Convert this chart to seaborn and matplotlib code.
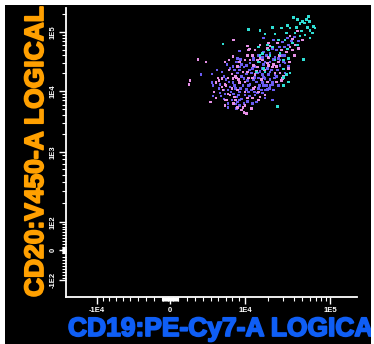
import numpy as np
import pandas as pd
import matplotlib
matplotlib.use("Agg")
import matplotlib.pyplot as plt
import matplotlib.patheffects as pe
import seaborn as sns
from matplotlib.patches import Rectangle
from matplotlib.ticker import FixedLocator, FixedFormatter, NullFormatter

# ---------------- data (CD19 / CD20 intensities) ----------------
cyan_x = [39338, 43586, 49514, 52058, 56206, 57644, 60520, 65392, 68640,
          36350, 33695, 41330, 46970, 53330, 60520, 32810, 28777, 24500, 22632, 18607, 16114, 11106,
          6640,
          38342, 33695, 43586, 50786, 36350, 30351, 30351, 25896,
          17112, 22632, 27990, 30351, 34580, 19719, 14319, 18607,
          46970, 54768, 42458, 26594, 21386, 31925, 15216, 24500, 48242, 59082, 63768,
          15216, 20275,
          34580, 32810, 30351, 17611, 16114]
cyan_y = [1.73e5, 1.60e5, 1.48e5, 1.42e5, 1.21e5, 1.80e5, 1.08e5, 1.26e5, 1.17e5,
          1.17e5, 1.31e5, 9.62e4, 8.56e4, 8.90e4, 7.91e4, 9.62e4, 1.17e5, 9.25e4, 1.21e5, 9.25e4, 1.08e5, 1.12e5,
          6.26e4,
          6.51e4, 5.15e4, 6.02e4, 3.48e4, 2.02e4, 1.72e4, 1.26e4, 5.67e3,
          4.40e4, 5.57e4, 4.40e4, 3.35e4, 3.62e4, 6.02e4, 2.10e4, 2.10e4,
          1.37e5, 1.60e5, 1.21e5, 7.32e4, 4.07e4, 7.32e4, 3.10e4, 3.35e4, 1.04e5, 1.48e5, 9.62e4,
          5.57e4, 4.95e4,
          1.42e4, 1.87e4, 2.36e4, 2.45e4, 4.07e4]

blue_x = [9170, 17611, 7211, 8860, 9336, 13060, 9834, 9170, 12655, 17112,
          21386, 25896, 24500, 5140, 6220, 5273, 7646, 6781, 8395, 11106,
          13060, 15216, 17611, 17112, 22632, 18607, 15216, 11106, 10000, 9170,
          8705, 7356, 7356, 8860, 13870, 18607, 22632, 5273, 23255, 26594,
          31925, 27990, 31925, 44714, 33695, 29564, 23255, 22632, 24500, 17611,
          30351, 21386, 18607, 3725, 6220, 7356, 6781, 9170, 8705, 14319,
          21386, 19719, 17112, 5140, 8395, 8860, 9502, 10369, 11475, 12250,
          13465, 14768, 16114, 17112, 18607, 20275, 22009, 9834, 10738, 11844,
          14319, 15665, 17611, 19163, 9336, 9668, 10369, 12250, 13465, 11475,
          8550, 8096, 7796, 8245, 9015, 9502, 10738, 12655, 14768, 16613,
          20830, 22632, 23878, 25198, 21386, 19719, 17611, 15665, 13870, 11844,
          10369, 9502, 13060, 15216, 17112, 19163, 21386, 23255, 26594, 27990,
          29564, 25198, 27292, 31138, 34580, 37346, 40334, 31925, 34580, 7066,
          7501, 6781, 6500, 5811, 6084, 6360, 6921, 7946, 8550, 9170,
          9834, 7646, 8096, 8705, 9170]
blue_y = [4.76e4, 7.91e4, 2.86e4, 3.62e4, 3.48e4, 3.35e4, 2.55e4, 2.27e4, 2.45e4, 2.45e4,
          2.10e4, 2.27e4, 1.87e4, 1.94e4, 1.31e4, 1.26e4, 1.17e4, 1.04e4, 1.26e4, 1.26e4,
          1.54e4, 1.66e4, 1.72e4, 1.37e4, 1.42e4, 1.04e4, 1.12e4, 9630, 8600, 9630,
          7970, 6350, 5460, 6600, 8600, 7680, 7120, 8280, 1.04e4, 1.26e4,
          2.02e4, 2.75e4, 4.07e4, 7.04e4, 7.91e4, 6.77e4, 7.32e4, 5.35e4, 3.76e4, 4.58e4,
          3.10e4, 3.10e4, 3.10e4, 1.87e4, 9270, 1.04e4, 7390, 7120, 5260, 6600,
          1.26e4, 1.08e4, 9270, 1.37e4, 2.27e4, 2.02e4, 1.79e4, 1.94e4, 2.27e4, 2.02e4,
          1.72e4, 2.02e4, 2.18e4, 1.87e4, 1.60e4, 1.87e4, 2.27e4, 1.60e4, 1.48e4, 1.31e4,
          1.42e4, 1.26e4, 1.22e4, 1.26e4, 1.12e4, 1.26e4, 1.08e4, 1.04e4, 9630, 8280,
          1.12e4, 1.37e4, 9630, 8930, 8600, 7390, 6850, 6350, 9270, 1.04e4,
          1.12e4, 1.31e4, 1.66e4, 1.79e4, 1.54e4, 2.45e4, 2.86e4, 3.10e4, 2.65e4, 2.98e4,
          2.75e4, 2.86e4, 3.62e4, 4.07e4, 3.76e4, 4.07e4, 4.40e4, 3.48e4, 3.62e4, 3.35e4,
          4.07e4, 4.95e4, 5.57e4, 5.57e4, 6.02e4, 7.04e4, 8.23e4, 2.98e4, 2.65e4, 1.54e4,
          1.42e4, 1.79e4, 2.10e4, 2.27e4, 1.12e4, 8280, 8930, 7120, 6120, 5890,
          6350, 2.45e4, 2.65e4, 3.10e4, 2.55e4]

pink_x = [8245, 11106, 10738, 7501, 6921, 4359, 10000, 12655, 14768, 8860,
          10738, 14768, 19719, 22632, 5947, 6500, 7356, 8096, 8705, 7946,
          7066, 9170, 10000, 11106, 13870, 19719, 13060, 7646, 6921, 8245,
          9668, 9834, 12655, 16114, 4876, 29564, 38342, 36350, 41330, 38342,
          25896, 20275, 20275, 16114, 26594, 34580, 2372, 2252, 5008, 6921,
          8395, 10369, 8860, 10000, 11475, 3352, 28777, 25198, 24500, 27990,
          6500, 7211, 8550, 9015, 9668, 12655, 14319, 16613, 18108, 20275,
          23255, 25198, 11844, 10738, 13060, 15216, 13870, 10000, 8860, 7946,
          7356, 6640, 6084, 5674, 5405, 9170, 17112, 21386, 28777, 32810,
          27292, 19719, 13870, 16114, 8096, 7501, 10738, 12250, 9502, 8550,
          6921, 5674, 15216, 18607, 30351, 35465, 40334, 44714, 36350, 43586, 49514]
pink_y = [7.32e4, 4.95e4, 5.79e4, 3.35e4, 3.10e4, 3.10e4, 3.35e4, 4.07e4, 3.35e4, 2.65e4,
          2.10e4, 2.55e4, 2.98e4, 2.55e4, 1.66e4, 1.60e4, 1.66e4, 1.60e4, 1.66e4, 1.94e4,
          1.26e4, 1.37e4, 1.42e4, 1.66e4, 1.87e4, 1.42e4, 1.12e4, 8600, 7120, 6350,
          5460, 4520, 7680, 7970, 6600, 1.60e4, 4.95e4, 5.57e4, 6.02e4, 7.61e4,
          6.51e4, 6.51e4, 3.76e4, 3.62e4, 3.10e4, 2.45e4, 1.48e4, 1.31e4, 6600, 1.31e4,
          7970, 4350, 5460, 5890, 5.15e4, 3.48e4, 1.48e4, 1.42e4, 2.02e4, 2.02e4,
          1.17e4, 7120, 1.79e4, 1.54e4, 2.10e4, 1.66e4, 2.18e4, 1.54e4, 2.27e4, 2.75e4,
          2.86e4, 2.65e4, 3.35e4, 4.07e4, 2.75e4, 9630, 1.17e4, 9630, 1.04e4, 1.12e4,
          8930, 1.04e4, 1.48e4, 1.37e4, 9630, 3.10e4, 3.35e4, 5.79e4, 4.95e4, 4.58e4,
          4.07e4, 5.35e4, 4.95e4, 6.02e4, 3.91e4, 2.27e4, 7680, 5260, 4880, 7120,
          5890, 7680, 7120, 8600, 1.79e4, 3.10e4, 4.07e4, 5.35e4, 8.56e4, 1.04e5, 7.32e4]

x_tick_vals = [-1e4, 0, 1e4, 1e5]
x_tick_labels = ["-1E4", "0", "1E4", "1E5"]
y_tick_vals = [-1e2, 0, 1e2, 1e3, 1e4, 1e5]
y_tick_labels = ["-1E2", "0", "1E2", "1E3", "1E4", "1E5"]

# ---------------- logicle-like axis transforms ----------------
def make_scale(cof, ticks, pos):
    g_t = np.arcsinh(np.asarray(ticks, float) / cof)
    pos = np.asarray(pos, float)
    sl_lo = (pos[1] - pos[0]) / (g_t[1] - g_t[0])
    sl_hi = (pos[-1] - pos[-2]) / (g_t[-1] - g_t[-2])
    g_ext = np.concatenate([[g_t[0] - 40], g_t, [g_t[-1] + 40]])
    p_ext = np.concatenate([[pos[0] - 40 * sl_lo], pos, [pos[-1] + 40 * sl_hi]])

    def fwd(v):
        return np.interp(np.arcsinh(np.asarray(v, float) / cof), g_ext, p_ext)

    def inv(p):
        return cof * np.sinh(np.interp(np.asarray(p, float), p_ext, g_ext))
    return fwd, inv

W, H = 374, 344
AX_L, AX_R, AX_T, AX_B = 66, 357, 8, 297
xf, xi = make_scale(1e4, x_tick_vals, [97 - AX_L, 170 - AX_L, 245 - AX_L, 330 - AX_L])
yf, yi = make_scale(100.0, y_tick_vals, [AX_B - 280, AX_B - 250, AX_B - 222,
                                         AX_B - 152, AX_B - 91, AX_B - 32])

# ---------------- figure ----------------
plt.rcParams['font.family'] = ['Liberation Sans', 'DejaVu Sans']
plt.rcParams['font.weight'] = 'bold'

fig = plt.figure(figsize=(W / 100, H / 100), dpi=100, facecolor='white')
bg = Rectangle((5 / W, 0), (371 - 5) / W, 339 / H, transform=fig.transFigure,
               facecolor='black', edgecolor='none', zorder=-1)
fig.patches.append(bg)

ax = fig.add_axes([AX_L / W, (H - AX_B) / H, (AX_R - AX_L) / W, (AX_B - AX_T) / H])
ax.patch.set_alpha(0)

df = pd.DataFrame({
    'CD19': blue_x + pink_x + cyan_x,
    'CD20': blue_y + pink_y + cyan_y,
    'pop': ['blue'] * len(blue_x) + ['pink'] * len(pink_x) + ['cyan'] * len(cyan_x),
})
palette = {'blue': '#6a5cf2', 'pink': '#e690e6', 'cyan': '#2fded4'}
sns.scatterplot(data=df, x='CD19', y='CD20', hue='pop', palette=palette,
                marker='s', s=4.5, linewidth=0, legend=False, ax=ax)

ax.set_xscale('function', functions=(xf, xi))
ax.set_yscale('function', functions=(yf, yi))
ax.set_xlim(xi(0), xi(AX_R - AX_L))
ax.set_ylim(yi(0), yi(AX_B - AX_T))

x_minor = ([-k * 1000 for k in range(2, 10)] + [k * 100 for k in range(-10, 11) if k != 0]
           + [k * 1000 for k in range(2, 10)] + [k * 1e4 for k in range(2, 10)] + [2e5])
y_minor = ([-k * 10 for k in range(2, 10)] + [k * 2 for k in range(-5, 6) if k != 0]
           + [k * 10 for k in range(2, 10)] + [k * 100 for k in range(2, 10)]
           + [k * 1000 for k in range(2, 10)] + [k * 1e4 for k in range(2, 10)] + [2e5])

ax.xaxis.set_major_locator(FixedLocator(x_tick_vals))
ax.xaxis.set_major_formatter(FixedFormatter(x_tick_labels))
ax.xaxis.set_minor_locator(FixedLocator(x_minor))
ax.xaxis.set_minor_formatter(NullFormatter())
ax.yaxis.set_major_locator(FixedLocator(y_tick_vals))
ax.yaxis.set_major_formatter(FixedFormatter(y_tick_labels))
ax.yaxis.set_minor_locator(FixedLocator(y_minor))
ax.yaxis.set_minor_formatter(NullFormatter())

ax.tick_params(which='major', colors='white', length=5, width=1.0, direction='out',
               labelsize=5.5, pad=2)
ax.tick_params(which='minor', colors='white', length=3, width=0.8, direction='out')
ax.tick_params(axis='y', labelrotation=90)
for lab in ax.get_yticklabels():
    lab.set_va('center')

ax.set_xlabel('')
ax.set_ylabel('')
for s in ['top', 'right']:
    ax.spines[s].set_visible(False)
for s in ['left', 'bottom']:
    ax.spines[s].set_color('white')
    ax.spines[s].set_linewidth(1.3)

t1 = fig.text(43 / W, (H - 297) / H, 'CD20:V450-A LOGICAL', rotation=90,
              rotation_mode='anchor', ha='left', va='baseline', color='#ffa000',
              fontsize=19, fontweight='bold')
t2 = fig.text(68 / W, (H - 336) / H, 'CD19:PE-Cy7-A LOGICAL', ha='left', va='baseline',
              color='#0f5ef5', fontsize=19, fontweight='bold')
for t in (t1, t2):
    t.set_path_effects([pe.withStroke(linewidth=1.3, foreground=t.get_color())])
    t.set_clip_path(bg)

fig.savefig('out.png', dpi=100, facecolor='white')
